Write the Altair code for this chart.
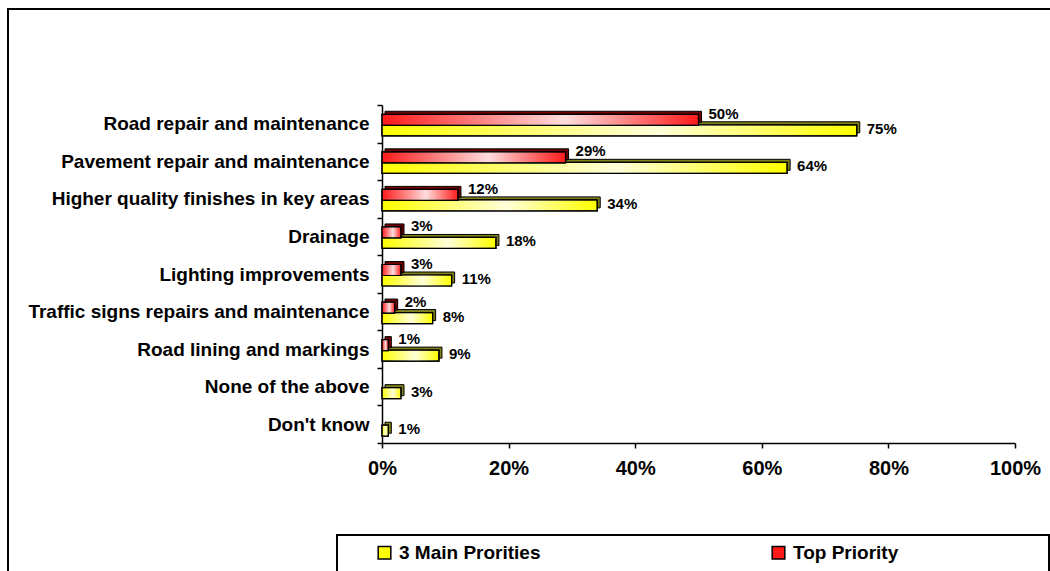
import altair as alt
import pandas as pd

categories = [
    "Road repair and maintenance",
    "Pavement repair and maintenance",
    "Higher quality finishes in key areas",
    "Drainage",
    "Lighting improvements",
    "Traffic signs repairs and maintenance",
    "Road lining and markings",
    "None of the above",
    "Don't know",
]
top_priority = [50, 29, 12, 3, 3, 2, 1, None, None]
main_priorities = [75, 64, 34, 18, 11, 8, 9, 3, 1]
series_names = ["3 Main Prorities", "Top Priority"]
x_ticks = [0, 0.2, 0.4, 0.6, 0.8, 1.0]

rows = []
for c, t, m in zip(categories, top_priority, main_priorities):
    if t is not None:
        rows.append({"category": c, "series": "Top Priority", "value": t / 100, "label": f"{t}%"})
    if m is not None:
        rows.append({"category": c, "series": "3 Main Prorities", "value": m / 100, "label": f"{m}%"})
df = pd.DataFrame(rows)

FONT = "Liberation Sans"
BAR_H = 11
RED_OFF = -4
YEL_OFF = 6.5
DEPTH = 3

y_enc = alt.Y("category:N", sort=categories,
              scale=alt.Scale(paddingInner=0, paddingOuter=0),
              axis=alt.Axis(title=None, labelFontSize=19, labelFontWeight="bold", labelFont=FONT,
                            labelColor="black", domainColor="black", domainWidth=1.5,
                            tickColor="black", tickSize=5, tickWidth=1.5, tickBand="extent",
                            labelPadding=8, labelLimit=400))
x_enc = alt.X("value:Q", scale=alt.Scale(domain=[0, 1], nice=False),
              axis=alt.Axis(title=None, values=x_ticks, format=".0%", labelFontSize=20,
                            labelFontWeight="bold", labelFont=FONT, labelColor="black",
                            domainColor="black", domainWidth=1.5, tickColor="black",
                            tickSize=5, tickWidth=1.5, grid=False, labelPadding=10,
                            labelFlush=False))

color_enc = alt.Color("series:N", scale=alt.Scale(domain=series_names, range=["#ffff00", "#ff1a1a"]),
                      legend=alt.Legend(orient="none", legendX=-7, legendY=438, direction="horizontal",
                                        title=None, symbolType="square", symbolSize=160,
                                        symbolStrokeColor="black", symbolStrokeWidth=1.5,
                                        labelFontSize=19, labelFontWeight="bold", labelFont=FONT,
                                        labelColor="black", columnPadding=228, labelOffset=5))

gradient = alt.Gradient(gradient="linear", x1=0, x2=1, y1=0, y2=0,
                        stops=[alt.GradientStop(color="rgba(255,255,255,0)", offset=0),
                               alt.GradientStop(color="rgba(255,255,255,0.85)", offset=0.58),
                               alt.GradientStop(color="rgba(255,255,255,0)", offset=1)])

red = alt.Chart(df).transform_filter(alt.datum.series == "Top Priority")
yel = alt.Chart(df).transform_filter(alt.datum.series == "3 Main Prorities")


def bar_layers(src, off, depth_color):
    depth = src.mark_bar(height=BAR_H, xOffset=DEPTH, yOffset=off - DEPTH, color=depth_color,
                         stroke="black", strokeWidth=1).encode(x=x_enc, y=y_enc)
    front = src.mark_bar(height=BAR_H, yOffset=off, stroke="black", strokeWidth=1.2).encode(
        x=x_enc, y=y_enc, color=color_enc)
    hl = src.mark_bar(height=BAR_H, yOffset=off, fill=gradient, stroke="black",
                      strokeWidth=1.2).encode(x=x_enc, y=y_enc)
    return depth, front, hl


y_depth, y_front, y_hl = bar_layers(yel, YEL_OFF, "#80801a")
r_depth, r_front, r_hl = bar_layers(red, RED_OFF, "#700000")

labels_top = red.mark_text(
    align="left", baseline="middle", dx=10, dy=-10, fontSize=15, fontWeight="bold", font=FONT, color="black"
).encode(x=x_enc, y=y_enc, text="label:N")

labels_main = yel.mark_text(
    align="left", baseline="middle", dx=10, dy=5, fontSize=15, fontWeight="bold", font=FONT, color="black"
).encode(x=x_enc, y=y_enc, text="label:N")

one = pd.DataFrame({"a": [0]})
outer = alt.Chart(one).mark_rect(filled=False, stroke="black", strokeWidth=2).encode(
    x=alt.value(-374), x2=alt.value(700), y=alt.value(-96), y2=alt.value(500))
legend_box = alt.Chart(one).mark_rect(fill="white", stroke="black", strokeWidth=2).encode(
    x=alt.value(-45), x2=alt.value(667), y=alt.value(430), y2=alt.value(500))

chart = alt.layer(outer, legend_box, y_depth, r_depth, y_front, y_hl, r_front, r_hl,
                  labels_top, labels_main).properties(
    width=633, height=338,
    padding={"left": 382, "top": 105, "right": 35, "bottom": 128},
    autosize=alt.AutoSizeParams(type="none"),
).configure(background="white").configure_view(stroke=None)

chart.save("out.html", embed_options={"renderer": "svg", "actions": False})
